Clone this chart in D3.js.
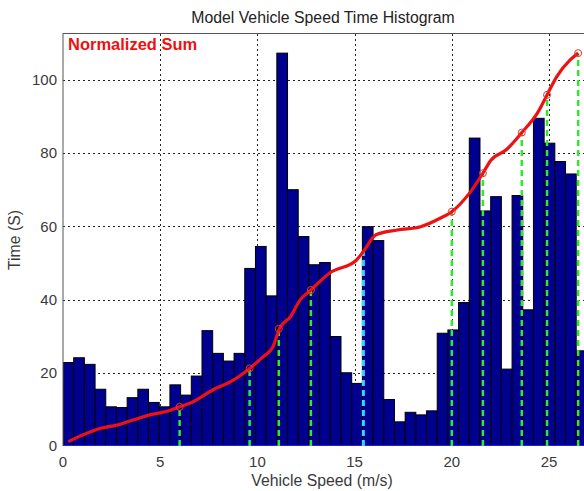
<!DOCTYPE html>
<html>
<head>
<meta charset="utf-8">
<script src="https://cdn.jsdelivr.net/npm/d3@7"></script>
<style>
  html, body { margin: 0; padding: 0; background: #fff; }
  svg { display: block; font-family: "Liberation Sans", Arial, sans-serif; }
</style>
</head>
<body>
<svg id="chart" width="584" height="491"></svg>
<script>
// Time spent in each speed bin (s), bins of equal width starting at 0 m/s
const binWidth = 0.55;
const binTimes = [
  22.8, 24.1, 22.3, 15.5, 10.7, 10.5, 13.2, 15.5, 11.9, 10.7,
  16.7, 13.9, 19.1, 31.5, 25.3, 23.2, 25.3, 48.5, 54.5, 41.0,
  107.3, 70.0, 57.2, 49.5, 50.1, 29.9, 20.0, 17.1, 59.9, 56.1,
  12.7, 6.6, 9.2, 8.5, 9.6, 30.8, 31.7, 39.2, 84.1, 64.2,
  68.1, 21.0, 68.4, 37.2, 89.5, 82.7, 77.7, 74.3, 26.0
];

// Normalized cumulative sum curve (speed m/s, value)
const sumSpeed = [0.27, 0.87, 1.9, 2.76, 3.6, 4.47, 5.3, 6.0, 6.7, 7.7, 8.76, 9.6, 10.3, 10.8,
  11.15, 11.7, 12.2, 12.75, 13.7, 15.1, 15.45, 16.1, 17.2, 18.4, 19.4, 20.0, 20.9, 21.6,
  22.0, 22.8, 23.6, 24.4, 24.9, 25.4, 26.1, 26.5];
const sumValue = [1.2, 2.7, 4.8, 5.7, 7.1, 8.5, 9.4, 10.7, 12.1, 15.3, 18.0, 21.2, 24.4, 27.1,
  32.2, 35.3, 39.9, 42.6, 47.2, 50.8, 53.1, 57.7, 59.0, 59.9, 62.2, 64.0, 69.0, 74.5,
  78.0, 80.9, 85.6, 90.9, 95.9, 100.9, 105.5, 107.3];

// Marked speeds on the curve
const markSpeed = [6.0, 9.6, 11.1, 12.75, 20.0, 21.6, 23.6, 24.9, 26.5];
const markValue = [10.7, 21.2, 32.0, 42.6, 64.0, 74.5, 85.6, 95.9, 107.3];
const highlightSpeed = 15.45;
const highlightValue = 53.1;

const xTicks = [0, 5, 10, 15, 20, 25];
const yTicks = [0, 20, 40, 60, 80, 100];

const svg = d3.select("#chart");
const margin = { left: 63, top: 33, bottom: 45 };
const height = 491;

const x = d3.scaleLinear().domain([0, 27]).range([margin.left, margin.left + 27 * 19.44]);
const y = d3.scaleLinear().domain([0, 112.8]).range([height - margin.bottom, margin.top]);

const [x0, x1] = x.range();
const [yb, yt] = y.range();

svg.append("defs").append("clipPath").attr("id", "plot")
  .append("rect").attr("x", x0).attr("y", yt).attr("width", x1 - x0).attr("height", yb - yt);

// Grid
const grid = svg.append("g").attr("stroke", "#222").attr("stroke-width", 1)
  .attr("stroke-dasharray", "2,3");
grid.selectAll("line.gx").data(xTicks.filter(d => d > 0)).join("line")
  .attr("x1", d => Math.round(x(d)) + 0.5).attr("x2", d => Math.round(x(d)) + 0.5)
  .attr("y1", yb).attr("y2", yt);
grid.selectAll("line.gy").data(yTicks.filter(d => d > 0)).join("line")
  .attr("y1", d => Math.round(y(d)) + 0.5).attr("y2", d => Math.round(y(d)) + 0.5)
  .attr("x1", x0).attr("x2", x1);

const plot = svg.append("g").attr("clip-path", "url(#plot)");

// Histogram bars
plot.selectAll("rect.bar").data(binTimes).join("rect")
  .attr("class", "bar")
  .attr("x", (d, i) => x(i * binWidth))
  .attr("width", (d, i) => x((i + 1) * binWidth) - x(i * binWidth))
  .attr("y", d => y(d))
  .attr("height", d => y(0) - y(d))
  .attr("fill", "#00008f")
  .attr("stroke", "#000")
  .attr("stroke-width", 1);

// Baseline
plot.append("line").attr("x1", x0).attr("x2", x1)
  .attr("y1", y(0)).attr("y2", y(0))
  .attr("stroke", "#1a1aff").attr("stroke-width", 2);

// Drop lines from the curve
plot.selectAll("line.drop").data(markSpeed).join("line")
  .attr("class", "drop")
  .attr("x1", d => x(d)).attr("x2", d => x(d))
  .attr("y1", y(0)).attr("y2", (d, i) => y(markValue[i]))
  .attr("stroke", "#33e633").attr("stroke-width", 2.5)
  .attr("stroke-dasharray", "6,4");

plot.append("line")
  .attr("x1", x(highlightSpeed)).attr("x2", x(highlightSpeed))
  .attr("y1", y(0)).attr("y2", y(highlightValue))
  .attr("stroke", "#33d6ff").attr("stroke-width", 3)
  .attr("stroke-dasharray", "6,4");

// Normalized sum curve
const line = d3.line()
  .x((d, i) => x(sumSpeed[i]))
  .y(d => y(d))
  .curve(d3.curveMonotoneX);
plot.append("path").datum(sumValue)
  .attr("d", line)
  .attr("fill", "none")
  .attr("stroke", "#ee1111")
  .attr("stroke-width", 3.2)
  .attr("stroke-linejoin", "round");

plot.selectAll("circle.mark").data(markSpeed).join("circle")
  .attr("cx", d => x(d)).attr("cy", (d, i) => y(markValue[i]))
  .attr("r", 3.5)
  .attr("fill", "none")
  .attr("stroke", "#e83030").attr("stroke-width", 1);

// Axes frame
svg.append("line").attr("x1", x0).attr("x2", x0).attr("y1", yt).attr("y2", yb)
  .attr("stroke", "#555").attr("stroke-width", 1);
svg.append("line").attr("x1", x0).attr("x2", x1).attr("y1", yt + 0.5).attr("y2", yt + 0.5)
  .attr("stroke", "#555").attr("stroke-width", 1);

// Tick labels
const tickColor = "#3a3a3a";
svg.append("g").selectAll("text").data(yTicks).join("text")
  .attr("x", x0 - 6).attr("y", d => y(d))
  .attr("dy", "0.35em")
  .attr("text-anchor", "end")
  .attr("font-size", 15)
  .attr("fill", tickColor)
  .text(d => d);

svg.append("g").selectAll("text").data(xTicks).join("text")
  .attr("x", d => x(d)).attr("y", yb + 16)
  .attr("dy", "0.35em")
  .attr("text-anchor", "middle")
  .attr("font-size", 15)
  .attr("fill", tickColor)
  .text(d => d);

// Titles
svg.append("text").attr("x", 323).attr("y", 23)
  .attr("text-anchor", "middle").attr("font-size", 15.8).attr("fill", "#222")
  .text("Model Vehicle Speed Time Histogram");

svg.append("text").attr("x", 322).attr("y", 486)
  .attr("text-anchor", "middle").attr("font-size", 15.8).attr("fill", tickColor)
  .text("Vehicle Speed (m/s)");

svg.append("text")
  .attr("transform", "translate(20,240) rotate(-90)")
  .attr("text-anchor", "middle").attr("font-size", 15.8).attr("fill", tickColor)
  .text("Time (S)");

svg.append("text").attr("x", 68).attr("y", 50)
  .attr("font-size", 16.5).attr("font-weight", "bold").attr("fill", "#ee1111")
  .text("Normalized Sum");
</script>
</body>
</html>
